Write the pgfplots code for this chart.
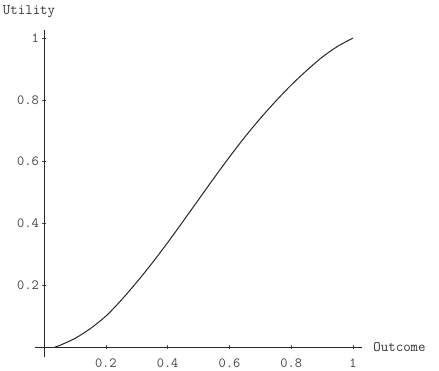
\documentclass[border=0pt]{standalone}
\usepackage{fontspec}
\usepackage{pgfplots}
\pgfplotsset{compat=1.18}
\begin{document}
\begin{tikzpicture}
\begin{axis}[
  x=309pt, y=309pt,
  axis lines=middle,
  axis line style={black!85, line width=0.9pt, -},
  xmin=-0.029, xmax=1.029,
  ymin=-0.032, ymax=1.026,
  clip=false,
  xtick={0.2,0.4,0.6,0.8,1},
  ytick={0.2,0.4,0.6,0.8,1},
  major tick length=4pt,
  tick style={black!70, line width=0.6pt},
  /pgf/number format/assume math mode=true,
  ticklabel style={font=\ttfamily\fontsize{14}{14}\selectfont, text=black!75, inner sep=0pt},
  xticklabel style={anchor=center, yshift=-14pt},
  yticklabel style={anchor=east, xshift=-3pt},
  xlabel={Outcome},
  ylabel={Utility},
  every axis x label/.style={at={(axis cs:1.065,0)}, anchor=west, font=\ttfamily\fontsize{14.5}{14.5}\selectfont, text=black!80, inner sep=0pt},
  every axis y label/.style={at={(axis cs:-0.0485,1.084)}, anchor=center, font=\ttfamily\fontsize{14.5}{14.5}\selectfont, text=black!80, inner sep=0pt},
]
\addplot[black!85, line width=1pt, smooth] coordinates {
(0.035,0) (0.05,0.005) (0.1,0.028) (0.15,0.06) (0.2,0.10) (0.25,0.152)
(0.3,0.21) (0.35,0.272) (0.4,0.338) (0.45,0.407) (0.5,0.477) (0.55,0.547)
(0.6,0.615) (0.65,0.68) (0.7,0.74) (0.75,0.796) (0.8,0.848) (0.85,0.895)
(0.9,0.938) (0.95,0.973) (1.0,1.0)
};
\coordinate (bl) at (axis cs:-0.1424,-0.0744);
\coordinate (tr) at (axis cs:1.278,1.123);
\end{axis}
\pgfresetboundingbox
\path[use as bounding box] (bl) rectangle (tr);
\end{tikzpicture}
\end{document}
